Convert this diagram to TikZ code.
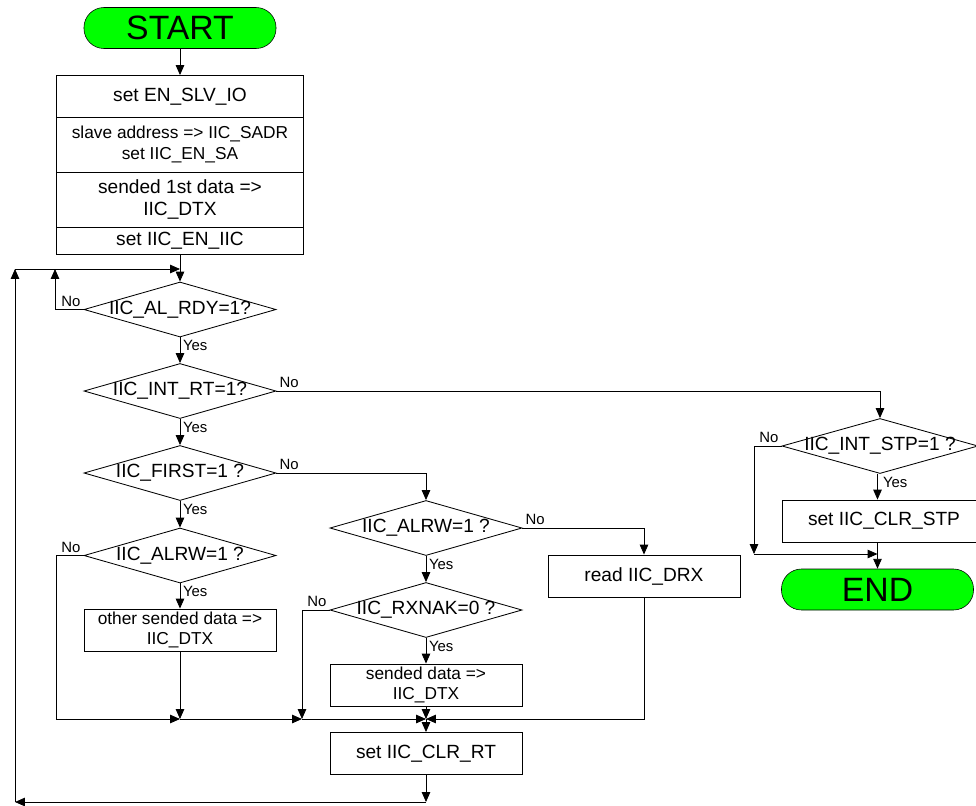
\documentclass[tikz,border=0pt]{standalone}
\usepackage{fontspec}
\setmainfont{Liberation Sans}
\usepackage{xcolor}
\usetikzlibrary{shapes.geometric, arrows.meta, positioning, calc}
\definecolor{termgreen}{RGB}{0,255,0}

\begin{document}
\begin{tikzpicture}[x=0.025cm, y=-0.025cm,
    term/.style={rectangle, draw=black, fill=termgreen, rounded corners=0.5cm, minimum width=4.8cm, minimum height=1.025cm, inner sep=0pt, font=\fontsize{24}{24}\selectfont},
    block/.style={rectangle, draw=black, align=center, inner sep=0pt, minimum width=4.8cm, minimum height=1.05cm, line width=0.6pt, font=\fontsize{13.6}{15.6}\selectfont},
    stack/.style={block, minimum width=6.175cm},
    smalltext/.style={font=\fontsize{12.3}{14.3}\selectfont},
    decision/.style={diamond, draw=black, inner sep=0pt, minimum width=4.8cm, minimum height=1.375cm, line width=0.6pt, font=\fontsize{13.6}{15.6}\selectfont},
    yn/.style={font=\fontsize{10.6}{12}\selectfont, inner sep=2pt},
    arrow/.style={-{Triangle[length=7pt, width=6pt]}, line width=0.6pt}
]
    \useasboundingbox (0,0) rectangle (976,805);
    \clip (0,0) rectangle (976,805);

    % Start and setup
    \node[term] (start) at (180,28) {START};
    \node[stack] (enslv) at (180,96.5) {set EN\_SLV\_IO};
    \node[stack, smalltext, minimum height=1.375cm] (sadr) at (180,144.5) {slave address => IIC\_SADR\\set IIC\_EN\_SA};
    \node[stack, minimum height=1.375cm] (dtxfirst) at (180,199.5) {sended 1st data =>\\IIC\_DTX};
    \node[stack, minimum height=0.675cm] (eniic) at (180,240.5) {set IIC\_EN\_IIC};

    % Left column
    \node[decision] (rdy) at (180,309.5) {\makebox[0pt]{IIC\_AL\_RDY=1?}};
    \node[decision] (intrt) at (180,391) {\makebox[0pt]{IIC\_INT\_RT=1?}};
    \node[decision] (first) at (180,473) {\makebox[0pt]{IIC\_FIRST=1 ?}};
    \node[decision] (alrwl) at (180,555.5) {\makebox[0pt]{IIC\_ALRW=1 ?}};
    \node[block, smalltext] (other) at (180,630) {other sended data =>\\IIC\_DTX};

    % Middle column
    \node[decision] (alrwm) at (426,528) {\makebox[0pt]{IIC\_ALRW=1 ?}};
    \node[decision] (rxnak) at (426,610) {\makebox[0pt]{IIC\_RXNAK=0 ?}};
    \node[block, smalltext] (sended) at (426,685) {sended data =>\\IIC\_DTX};
    \node[block] (clrrt) at (426,753.5) {set IIC\_CLR\_RT};
    \node[block] (drx) at (644,576) {read IIC\_DRX};

    % Stop branch
    \node[decision, minimum width=4.9cm] (stp) at (880,446) {\makebox[0pt]{IIC\_INT\_STP=1 ?}};
    \node[block, minimum width=5.1cm] (clrstp) at (884,521) {set IIC\_CLR\_STP};
    \node[term] (finish) at (877.5,589.5) {END};

    % Corner points
    \coordinate (mtop) at (180,269);
    \coordinate (ntop) at (55,269);
    \coordinate (lb1) at (426,802);
    \coordinate (lb2) at (15,802);
    \coordinate (lb3) at (15,269);
    \coordinate (m0) at (56,719);
    \coordinate (m1) at (180,719);
    \coordinate (m2) at (302,719);
    \coordinate (m3) at (426,719);
    \coordinate (s1) at (754,554);
    \coordinate (s2) at (877.5,554);

    % Yes / No labels
    \node[yn, anchor=south east] (rdyno) at (rdy.west) {No};
    \node[yn, anchor=north west] (rdyyes) at (rdy.south) {Yes};
    \node[yn, anchor=south west] (intrtno) at (intrt.east) {No};
    \node[yn, anchor=north west] (intrtyes) at (intrt.south) {Yes};
    \node[yn, anchor=south west] (firstno) at (first.east) {No};
    \node[yn, anchor=north west] (firstyes) at (first.south) {Yes};
    \node[yn, anchor=south east] (alrwlno) at (alrwl.west) {No};
    \node[yn, anchor=north west] (alrwlyes) at (alrwl.south) {Yes};
    \node[yn, anchor=south west] (alrwmno) at (alrwm.east) {No};
    \node[yn, anchor=north west] (alrwmyes) at (alrwm.south) {Yes};
    \node[yn, anchor=south east] (rxnakno) at (rxnak.west) {No};
    \node[yn, anchor=north west] (rxnakyes) at (rxnak.south) {Yes};
    \node[yn, anchor=south east] (stpno) at (stp.west) {No};
    \node[yn, anchor=north west] (stpyes) at (stp.south) {Yes};

    % Main flow
    \draw[arrow] (start) -- (enslv);
    \draw[arrow] (eniic) -- (rdy);
    \draw[arrow] (rdy) -- (intrt);
    \draw[arrow] (intrt) -- (first);
    \draw[arrow] (first) -- (alrwl);
    \draw[arrow] (alrwl) -- (other);
    \draw[arrow] (other) -- (m1);

    % No branches
    \draw[arrow] (rdy.west) -| (ntop);
    \draw[arrow] (intrt.east) -| (stp.north);
    \draw[arrow] (first.east) -| (alrwm.north);
    \draw[arrow] (alrwl.west) -| (m0) -- (m1);
    \draw[arrow] (alrwm.east) -| (drx.north);
    \draw[arrow] (rxnak.west) -| (m2);
    \draw[arrow] (stp.west) -| (s1);

    % Middle flow and merge
    \draw[arrow] (alrwm) -- (rxnak);
    \draw[arrow] (rxnak) -- (sended);
    \draw[arrow] (sended) -- (m3);
    \draw[arrow] (drx) |- (m3);
    \draw[arrow] (m1) -- (m2);
    \draw[arrow] (m2) -- (m3);
    \draw[arrow] (m3) -- (clrrt);

    % Loop back
    \draw[arrow] (clrrt) -- (lb1);
    \draw[arrow] (lb1) -- (lb2);
    \draw[arrow] (lb2) -- (lb3);
    \draw[arrow] (lb3) -- (mtop);

    % Stop flow
    \draw[arrow] (stp.south -| finish) -- (clrstp.north -| finish);
    \draw[arrow] (clrstp.south -| finish) -- (finish);
    \draw[arrow] (s1) -- (s2);

\end{tikzpicture}
\end{document}
